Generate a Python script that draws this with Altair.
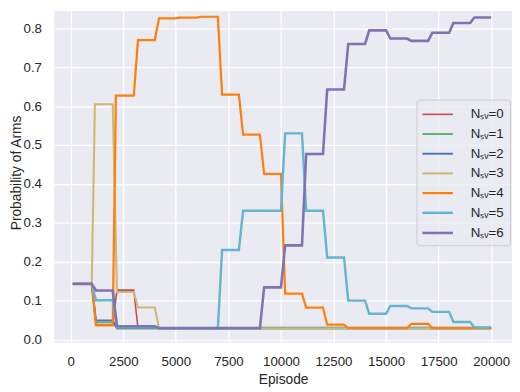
import altair as alt
import pandas as pd

# ---- data ----
labels = ["Nₛᵥ=0", "Nₛᵥ=1", "Nₛᵥ=2", "Nₛᵥ=3", "Nₛᵥ=4", "Nₛᵥ=5", "Nₛᵥ=6"]
colors = ["#C44E52", "#55A868", "#4C72B0", "#CCB974", "#FF7F0E", "#64B5CD", "#8172B2"]
widths = [1.6, 2.6, 2.6, 2.6, 2.8, 2.0, 2.2]

ep_0 = [100, 1000, 1200, 2000, 2200, 3000, 3200, 20000]
pr_0 = [0.143, 0.143, 0.038, 0.038, 0.127, 0.127, 0.029, 0.029]

ep_1 = [100, 1000, 1200, 2000, 2200, 20000]
pr_1 = [0.143, 0.143, 0.044, 0.044, 0.028, 0.028]

ep_2 = [100, 1000, 1200, 2000, 2200, 20000]
pr_2 = [0.143, 0.143, 0.049, 0.049, 0.030, 0.030]

ep_3 = [100, 1000, 1150, 2000, 2200, 3000, 3200, 4000, 4200, 20000]
pr_3 = [0.143, 0.143, 0.605, 0.605, 0.122, 0.122, 0.082, 0.082, 0.029, 0.029]

ep_4 = [100, 1000, 1200, 2000, 2150, 3000, 3200, 4000, 4200, 5000, 5200, 6000, 6200,
        7000, 7200, 8000, 8200, 9000, 9200, 10000, 10200, 11000, 11200, 12000, 12200,
        13000, 13200, 16000, 16200, 17000, 17200, 20000]
pr_4 = [0.143, 0.143, 0.036, 0.036, 0.627, 0.627, 0.770, 0.770, 0.826, 0.826, 0.828, 0.828, 0.830,
        0.830, 0.630, 0.630, 0.527, 0.527, 0.426, 0.426, 0.118, 0.118, 0.082, 0.082, 0.038,
        0.038, 0.029, 0.029, 0.040, 0.040, 0.029, 0.029]

ep_5 = [100, 1000, 1200, 2000, 2200, 4000, 4200, 7000, 7200, 8000, 8200, 10000, 10200,
        11000, 11200, 12000, 12200, 13000, 13200, 14000, 14200, 15000, 15200, 16000, 16200,
        17000, 17200, 18000, 18200, 19000, 19200, 20000]
pr_5 = [0.143, 0.143, 0.101, 0.101, 0.031, 0.031, 0.029, 0.029, 0.230, 0.230, 0.331, 0.331, 0.530,
        0.530, 0.331, 0.331, 0.211, 0.211, 0.100, 0.100, 0.066, 0.066, 0.086, 0.086, 0.080,
        0.080, 0.071, 0.071, 0.045, 0.045, 0.031, 0.031]

ep_6 = [100, 1000, 1200, 2000, 2200, 4000, 4200, 9000, 9200, 10000, 10200, 11000, 11200,
        12000, 12200, 13000, 13200, 14000, 14200, 15000, 15200, 16000, 16200, 17000, 17200,
        18000, 18200, 19000, 19200, 20000]
pr_6 = [0.143, 0.143, 0.126, 0.126, 0.034, 0.034, 0.029, 0.029, 0.134, 0.134, 0.242, 0.242, 0.477,
        0.477, 0.643, 0.643, 0.760, 0.760, 0.795, 0.795, 0.774, 0.774, 0.768, 0.768, 0.789,
        0.789, 0.814, 0.814, 0.828, 0.828]

x_ticks = [0, 2500, 5000, 7500, 10000, 12500, 15000, 17500, 20000]
y_ticks = [0.0, 0.1, 0.2, 0.3, 0.4, 0.5, 0.6, 0.7, 0.8]

# ---- build long table ----
eps = [ep_0, ep_1, ep_2, ep_3, ep_4, ep_5, ep_6]
prs = [pr_0, pr_1, pr_2, pr_3, pr_4, pr_5, pr_6]
rows = []
for lab, e_list, p_list in zip(labels, eps, prs):
    for e, p in zip(e_list, p_list):
        rows.append({"arm": lab, "episode": e, "prob": p})
df = pd.DataFrame(rows)

FONT = "Liberation Sans"
TXT = "#262626"

legend = alt.Legend(
    title=None,
    orient="none",
    legendX=368,
    legendY=90,
    symbolType="M-2,0H2",
    symbolSize=240,
    symbolOffset=6,
    labelOffset=24,
    rowPadding=4,
    padding=6,
    fillColor="rgba(234,234,242,0.8)",
    strokeColor="#CCCCCC",
    cornerRadius=3,
    labelFont=FONT,
    labelFontSize=13.5,
    labelColor=TXT,
)

chart = alt.Chart(df).mark_line(strokeCap="butt").encode(
    x=alt.X("episode:Q",
            scale=alt.Scale(domain=[-782, 20990], nice=False, zero=False),
            axis=alt.Axis(values=x_ticks, format="d", title="Episode", labelPadding=12,
                          titlePadding=5, labelFlush=False)),
    y=alt.Y("prob:Q",
            scale=alt.Scale(domain=[-0.0084, 0.8448], nice=False, zero=False),
            axis=alt.Axis(values=y_ticks, format=".1f", title="Probability of Arms",
                          labelPadding=13, titleX=-31, titleY=164, titleAngle=270,
                          titleBaseline="bottom", titleAlign="center")),
    color=alt.Color("arm:N", scale=alt.Scale(domain=labels, range=colors), legend=legend),
    strokeWidth=alt.StrokeWidth("arm:N", scale=alt.Scale(domain=labels, range=widths), legend=legend),
).properties(
    width=465,
    height=337,
    autosize=alt.AutoSizeParams(type="none"),
    padding={"left": 47, "top": 0, "right": 0, "bottom": 47},
).configure_view(
    fill="#EAEAF2", stroke=None
).configure_axis(
    grid=True, gridColor="white", gridWidth=1.3, domain=False, ticks=False,
    labelFont=FONT, labelFontSize=13.5, labelColor=TXT,
    titleFont=FONT, titleFontSize=14, titleColor=TXT, titleFontWeight="normal",
)

chart.save("out.html", embed_options={"renderer": "svg", "actions": False})
